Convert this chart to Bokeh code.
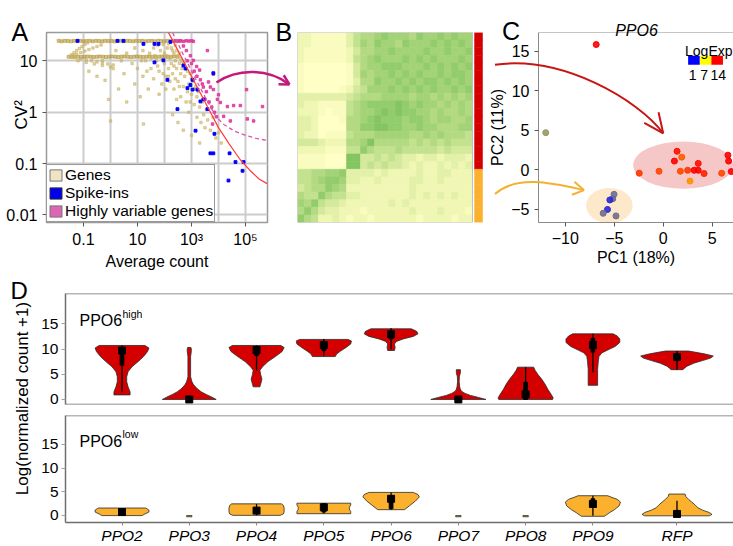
import numpy as np
from math import pi, cos, sin, hypot
from bokeh.plotting import figure
from bokeh.layouts import row, column
from bokeh.models import (Range1d, FactorRange, FixedTicker, Legend, LegendItem, Label, Span,
                          LinearColorMapper, ColumnDataSource)
from bokeh.core.properties import value
from bokeh.embed import file_html
from bokeh.resources import INLINE

FONT = "Liberation Sans"

# ---------------- Panel A data (log10 average count, log10 CV^2) ----------------
band1_log_mean = [-1.92,-1.81,-1.69,-1.58,-1.46,-1.35,-1.23,-1.12,-1.0,-0.89,-0.77,-0.66,-0.54,-0.43,
                  -0.31,-0.2,-0.08,0.03,0.15,0.26,0.38,0.49,0.61,0.72,0.84,0.95,1.07,1.18,1.3,1.41,
                  1.53,1.64,1.76,1.87,1.99,2.1,2.22,2.33,2.45,2.56]
band1_log_cv2 = [1.39,1.38,1.39,1.385,1.38,1.39,1.385,1.39,1.38,1.385,1.39,1.38,1.39,1.385,1.38,1.39,
                 1.385,1.39,1.38,1.385,1.39,1.38,1.39,1.385,1.38,1.39,1.385,1.39,1.38,1.385,1.39,1.38,
                 1.39,1.385,1.38,1.39,1.385,1.39,1.38,1.385]
band2_log_mean = [-1.55,-1.43,-1.32,-1.2,-1.09,-0.97,-0.86,-0.74,-0.63,-0.51,-0.4,-0.28,-0.17,-0.05,
                  0.06,0.18,0.29,0.41,0.52,0.64,0.75,0.87,0.98,1.1,1.21,1.33,1.44,1.56,1.67,1.79,
                  1.9,2.02,2.13,2.25,2.36,2.48]
band2_log_cv2 = [1.08,1.075,1.085,1.08,1.075,1.08,1.085,1.08,1.075,1.08,1.085,1.08,1.075,1.08,1.085,
                 1.08,1.075,1.08,1.085,1.08,1.075,1.08,1.085,1.08,1.075,1.08,1.085,1.08,1.075,1.08,
                 1.085,1.08,1.075,1.08,1.085,1.08]
other_genes = [
 (-1.45,1.12),(-1.35,1.16),(-1.25,1.2),(-1.15,1.24),(-1.05,1.28),(-0.95,1.32),(-0.85,1.35),
 (-1.4,1.1),(-1.25,1.13),(-1.1,1.16),(-0.95,1.19),(-0.8,1.22),(-0.65,1.25),(-0.5,1.28),(-0.35,1.31),
 (-1.3,1.06),(-1.1,1.04),(-0.9,1.02),(-0.7,1.0),(-0.5,0.98),(-0.3,0.96),(-0.1,0.94),(0.1,0.92),
 (-1.2,1.0),(-0.9,0.97),(-0.6,0.94),(-0.3,0.91),(0.0,0.88),
 (-0.8,0.8),(-0.5,0.7),(-0.2,0.62),(0.1,0.85),(0.3,0.45),(0.6,0.2),(0.5,0.75),(0.8,0.95),(0.9,0.55),
 (1.1,0.3),(1.0,0.85),(1.2,0.7),(1.3,1.0),(1.4,0.45),(1.5,0.85),(1.6,0.65),(1.7,1.0),(1.8,0.8),
 (1.85,1.2),(1.9,0.55),(2.0,0.95),(2.0,1.15),(2.05,0.7),(2.1,1.25),(2.15,0.85),(2.2,1.05),(2.2,0.6),
 (2.25,0.95),(2.3,1.2),(2.3,0.75),(2.35,0.45),(2.4,1.0),(2.4,1.3),(2.45,0.85),(2.5,1.1),(2.5,0.6),
 (2.55,0.95),(2.6,0.3),(2.6,0.75),(2.65,1.0),(2.7,0.5),(2.7,0.95),(2.75,0.7),(2.8,0.2),(2.8,0.85),
 (2.85,0.8),(2.9,0.55),(2.9,0.0),(2.95,0.75),(3.0,0.35),(3.0,0.65),(3.05,0.6),(3.1,0.15),(3.1,0.45),
 (3.15,0.5),(3.2,-0.1),(3.2,0.3),(3.25,0.4),(3.3,0.1),(3.35,-0.2),(3.4,0.2),(3.45,-0.05),(3.5,-0.3),
 (3.55,0.05),(3.6,-0.15),(3.7,-0.35),(3.8,-0.1),(3.9,-0.5),(4.0,-0.4),(4.1,-0.6),(-0.07,0.25),(0.0,-0.17),
 (1.22,-0.23),(2.3,-0.05),(2.5,-0.2),(2.7,-0.35),(3.0,-0.45),(3.3,-0.6),(1.6,1.25),(1.75,1.3),(1.95,1.32),
 (2.15,1.33),(2.35,1.15),(2.55,1.15),(2.75,0.98),(1.2,1.2),(0.9,1.25),(0.6,1.15),(1.45,1.15),
 (2.05,0.45),(2.45,0.25),(1.8,0.35),(0.4,1.0),(0.2,1.2),(-0.3,1.0),
 (1.65,1.1),(1.9,1.05),(2.1,1.1),(2.25,1.25),(2.35,0.9),(2.45,1.2),(2.6,1.05),(2.65,0.85),(1.75,0.9),
 (1.95,0.75),(2.15,0.7),(2.4,0.65),(2.55,0.5),(2.85,0.4),(2.95,0.2),(1.5,1.05),(1.35,0.8),(1.15,1.0),
]
spike_ins = [
 (-1.22,1.39),(0.26,1.39),(0.48,1.39),(1.22,1.33),(1.63,1.33),(1.78,1.33),(2.22,1.37),(1.63,0.97),
 (1.96,1.01),(2.11,0.63),(2.48,0.06),(2.85,0.47),(2.96,0.53),(3.04,0.63),(3.22,0.44),(3.33,0.21),
 (3.44,0.25),(3.59,0.06),(3.15,-0.36),(3.81,0.76),(3.85,-0.42),(3.70,-0.80),(3.81,-0.80),(4.41,-0.80),
 (4.63,-0.97),(4.93,-0.97),(4.89,-1.14),(4.37,-1.33),(2.70,0.91),(2.78,0.85),(3.04,0.44),
]
hvg = [
 (2.4,1.39),(2.5,1.385),(2.6,1.39),(2.7,1.38),(2.8,1.39),(2.9,1.385),(3.0,1.39),(3.07,1.38),
 (2.70,1.29),(2.81,1.20),(2.96,1.10),(3.07,1.01),(3.19,0.89),(3.30,0.82),(3.59,1.20),
 (3.33,0.63),(3.44,0.49),(3.63,0.59),(3.70,0.49),(3.81,0.44),(3.96,0.25),(4.07,0.19),(4.33,0.11),
 (4.56,0.13),(4.81,0.13),(5.07,-0.13),(5.30,-0.17),(5.63,0.11),(5.04,0.44),(3.81,0.74),(4.0,0.34),
 (4.19,-0.08),(4.44,-0.17),(3.78,-0.23),(3.93,-0.09),(3.2,0.7),(3.4,0.55),(3.55,0.4),(3.5,0.25),
 (3.65,0.2),(3.75,0.1),(3.85,0.0),(2.85,1.0),(3.0,0.95),(3.1,0.8),
]
fit_log_mean = [2.15,2.6,3.0,3.4,3.7,4.0,4.4,4.8,5.2,5.5,5.8]
fit_log_cv2 = [1.55,1.10,0.70,0.30,0.0,-0.30,-0.62,-0.92,-1.15,-1.30,-1.39]
thr_log_mean = [2.3,2.7,3.1,3.5,3.9,4.2,4.6,5.0,5.4,5.8]
thr_log_cv2 = [1.55,1.12,0.70,0.30,-0.08,-0.24,-0.37,-0.45,-0.51,-0.55]

# ---------------- Panel B data (sample x sample heatmap, 0 = pale yellow ... 9 = green) ----------------
heat_rows = [
 "2211111356678777687787877",
 "2211111357687768777878787",
 "2111111246677877778778778",
 "2111111256787778787877787",
 "1000000146778887778787878",
 "1000000147677878787787887",
 "1000000136687787878878787",
 "1000001245777878787877878",
 "3333333456667777677676767",
 "3221111567888898787767676",
 "2221011567789898877676676",
 "3320001667898887887677667",
 "3320000668899887787766677",
 "3220111566677777667676665",
 "4443222667966666565656555",
 "2222111558655565555545444",
 "1111000994454543323323332",
 "1111000994545443232232323",
 "5566778333323222232233222",
 "5567887332232222332232222",
 "4566876222222222322222222",
 "6558655332222222323232322",
 "7685443222222323222222222",
 "6864332221222222322232221",
 "8652232122122222212222122",
]
sample_group = list("HHHHHHHHHHHHHHHHHHLLLLLLL")

# ---------------- Panel C data (PCA) ----------------
pc1 = [-2.45,-0.43,1.14,1.41,1.75,1.89,2.49,2.73,3.16,3.57,3.57,4.17,5.96,6.6,6.67,6.94,-6.84,-11.99,
       -5.02,-5.15,-5.45,-5.69,-6.13,-4.82]
pc2 = [-0.42,-0.17,1.11,2.35,-0.17,1.61,-0.05,-1.41,-0.05,0.82,-0.05,-0.46,-0.42,1.86,1.11,-0.21,15.84,4.70,
       -3.09,-3.64,-3.80,-5.0,-5.49,-5.82]
log_exp = [12.5,12.0,14.0,13.5,12.0,11.5,12.5,10.0,14.0,13.5,14.0,13.0,12.0,14.0,14.0,14.0,14.0,4.6,
           3.6,3.4,2.0,2.0,3.6,3.6]
legend_levels = [1, 7, 14]
ell_x = [2.04, -5.5]
ell_y = [0.6, -4.5]
ell_w = [10.2, 4.75]
ell_h = [6.0, 4.45]
ell_color = ["#f5c7c7", "#fde9ca"]

# ---------------- Panel D data (violins) ----------------
gene_names = ["PPO2","PPO3","PPO4","PPO5","PPO6","PPO7","PPO8","PPO9","RFP"]
gene_group = ["ppo","ppo","ppo","ppo","ppo","ppo","ppo","ppo","ctl"]

high_y = {
 "PPO2": [0.9,1.5,2.5,3.5,4.5,5.5,6.5,7.5,8.5,9.5,10.2,10.7],
 "PPO3": [0.0,0.5,1.0,1.5,2.0,2.5,3.0,3.5,4.0,4.5,5.5,7.0,8.5,9.5,10.0,10.3],
 "PPO4": [2.5,3.0,4.0,5.0,5.8,6.5,7.5,8.5,9.5,10.3,10.7],
 "PPO5": [8.5,9.0,9.6,10.3,11.0,11.6,11.9],
 "PPO6": [9.7,10.3,11.0,11.5,12.0,12.5,13.0,13.5,14.0],
 "PPO7": [0.0,0.4,0.8,1.2,1.6,2.0,2.5,3.5,4.5,5.3,5.9],
 "PPO8": [0.0,0.3,1.0,2.0,3.0,4.0,5.0,5.8,6.4],
 "PPO9": [2.8,4.0,6.0,7.5,8.5,9.2,9.8,10.5,11.3,12.0,12.6,13.0],
 "RFP":  [5.9,6.2,6.6,7.2,7.7,8.2,8.6,9.0,9.3,9.6],
}
high_w = {
 "PPO2": [0.12,0.12,0.09,0.07,0.07,0.09,0.15,0.24,0.32,0.38,0.40,0.34],
 "PPO3": [0.40,0.33,0.25,0.18,0.13,0.09,0.06,0.04,0.03,0.02,0.02,0.02,0.02,0.03,0.03,0.025],
 "PPO4": [0.05,0.06,0.08,0.06,0.05,0.09,0.17,0.28,0.38,0.41,0.36],
 "PPO5": [0.17,0.19,0.25,0.33,0.40,0.41,0.36],
 "PPO6": [0.05,0.06,0.05,0.08,0.18,0.33,0.40,0.38,0.30],
 "PPO7": [0.41,0.30,0.18,0.10,0.05,0.03,0.02,0.012,0.015,0.03,0.03],
 "PPO8": [0.40,0.41,0.38,0.33,0.29,0.24,0.18,0.14,0.12],
 "PPO9": [0.07,0.07,0.07,0.08,0.09,0.13,0.22,0.33,0.40,0.40,0.36,0.30],
 "RFP":  [0.09,0.11,0.15,0.25,0.38,0.50,0.54,0.42,0.30,0.17],
}
high_box_gene = ["PPO2","PPO3","PPO4","PPO5","PPO6","PPO7","PPO8","PPO9","RFP"]
high_q1 = [6.8,0.0,8.7,9.7,12.0,0.0,0.0,9.4,7.7]
high_med = [9.7,0.0,9.8,10.8,12.9,0.0,1.0,10.8,8.4]
high_q3 = [10.1,0.15,10.5,11.4,13.4,0.15,3.4,12.1,8.9]
high_lo = [1.45,0.0,5.75,8.7,9.9,0.0,0.0,5.4,5.9]
high_hi = [10.7,0.3,10.7,12.0,14.1,0.3,6.4,13.0,9.6]

low_y = {
 "PPO2": [-0.05,0.3,0.7,1.1,1.4,1.55],
 "PPO3": [-0.3,-0.05],
 "PPO4": [0.0,0.3,0.8,1.5,2.1,2.43],
 "PPO5": [0.35,0.8,1.3,1.7,2.2,2.57],
 "PPO6": [1.2,2.0,3.0,3.9,4.4,4.85],
 "PPO7": [-0.3,-0.05],
 "PPO8": [-0.3,-0.05],
 "PPO9": [-0.2,0.5,1.2,2.0,2.8,3.4,3.8,4.15],
 "RFP":  [-0.1,0.2,0.6,1.1,1.6,2.2,2.8,3.4,4.0,4.5],
}
low_w = {
 "PPO2": [0.30,0.34,0.40,0.40,0.37,0.35],
 "PPO3": [0.04,0.04],
 "PPO4": [0.35,0.40,0.41,0.41,0.40,0.37],
 "PPO5": [0.40,0.40,0.38,0.38,0.40,0.40],
 "PPO6": [0.20,0.27,0.36,0.42,0.40,0.33],
 "PPO7": [0.04,0.04],
 "PPO8": [0.04,0.04],
 "PPO9": [0.17,0.24,0.32,0.39,0.41,0.36,0.28,0.22],
 "RFP":  [0.48,0.52,0.48,0.38,0.31,0.27,0.22,0.17,0.13,0.12],
}
low_box_gene = ["PPO2","PPO4","PPO5","PPO6","PPO9","RFP"]
low_q1 = [0.35,0.35,0.7,1.4,1.8,-0.2]
low_med = [0.7,1.0,1.7,3.5,2.4,0.3]
low_q3 = [1.0,1.6,2.4,4.15,3.5,1.0]
low_lo = [-0.05,0.0,0.4,1.2,-0.1,-0.2]
low_hi = [1.55,2.4,2.57,4.85,4.15,3.1]

# ---------------- helpers ----------------
def style_axis(ax, size="16px", tick_color="#555555"):
    ax.major_label_text_font = FONT
    ax.major_label_text_font_size = size
    ax.major_label_text_color = "black"
    ax.axis_label_text_font = FONT
    ax.axis_label_text_font_size = "16px"
    ax.axis_label_text_font_style = "normal"
    ax.axis_label_text_color = "black"
    ax.major_tick_in = 0
    ax.major_tick_out = 4
    ax.minor_tick_line_color = None
    ax.major_tick_line_color = tick_color

def plabel(p, x, y, text, size="24px", **kw):
    # label inside a frame, canvas pixel units
    p.add_layout(Label(x=x, y=y, x_units="canvas", y_units="canvas", text=text,
                       text_font=FONT, text_font_size=size, text_color="black", **kw))

def free_text(p, x, y, text, size, **kw):
    # text glyph drawn on the overlay level (not clipped to the frame)
    p.text(x=[x], y=[y], text=[text], text_font=value(FONT), text_font_size=size,
           text_color="black", level="overlay", **kw)

def head_arms(tip, direction, length, half_angle=0.5):
    dx, dy = direction
    n = hypot(dx, dy)
    bx, by = -dx / n, -dy / n
    arms = []
    for a in (half_angle, -half_angle):
        rx = bx * cos(a) - by * sin(a)
        ry = bx * sin(a) + by * cos(a)
        arms.append((tip[0] + rx * length, tip[1] + ry * length))
    return arms

TOP_H = 272

# ================= Panel A =================
A_LX = (-2.37, 5.815)
A_LY = (-2.147, 1.552)
pA = figure(width=294, height=TOP_H, x_axis_type="log", y_axis_type="log",
            x_range=Range1d(10**A_LX[0], 10**A_LX[1]), y_range=Range1d(10**A_LY[0], 10**A_LY[1]),
            output_backend="svg", toolbar_location=None,
            min_border_left=46, min_border_right=27, min_border_top=32, min_border_bottom=46)

def A_px(X, Y):
    # pixel position (frame: x 46..267, y 32..226) -> data coordinates
    lx = A_LX[0] + (X - 46) / 221 * (A_LX[1] - A_LX[0])
    ly = A_LY[1] - (Y - 32) / 194 * (A_LY[1] - A_LY[0])
    return 10 ** lx, 10 ** ly

pA.outline_line_color = "#9a9a9a"
pA.outline_line_width = 1.5
style_axis(pA.xaxis[0]); style_axis(pA.yaxis[0])
pA.xaxis.axis_line_color = None
pA.yaxis.axis_line_color = None
pA.xaxis.ticker = FixedTicker(ticks=[0.1, 10, 1000, 100000], minor_ticks=[1, 100, 10000])
pA.xaxis.major_label_overrides = {0.1: "0.1", 10: "10", 1000: "10³", 100000: "10⁵"}
pA.yaxis.ticker = FixedTicker(ticks=[0.01, 0.1, 1, 10])
pA.yaxis.major_label_overrides = {0.01: "0.01", 0.1: "0.1", 1: "1", 10: "10"}
pA.xaxis.axis_label = "Average count"
pA.xaxis.axis_label_standoff = 2
pA.xaxis.major_label_standoff = 4
for g in (pA.xgrid[0], pA.ygrid[0]):
    g.grid_line_color = "#cccccc"
    g.grid_line_width = 2
pA.xgrid.minor_grid_line_color = "#cccccc"
pA.xgrid.minor_grid_line_width = 2

pA.scatter(10 ** np.array(band1_log_mean + band2_log_mean), 10 ** np.array(band1_log_cv2 + band2_log_cv2),
           marker="square", size=3, color="#b59a3e", alpha=0.6)
pA.scatter(10 ** np.array([p[0] for p in other_genes]), 10 ** np.array([p[1] for p in other_genes]),
           marker="square", size=2.5, color="#c8b060", alpha=0.55)
pA.scatter(10 ** np.array([p[0] for p in hvg]), 10 ** np.array([p[1] for p in hvg]),
           marker="square", size=2.5, color="#e0339b", alpha=0.85)
pA.scatter(10 ** np.array([p[0] for p in spike_ins]), 10 ** np.array([p[1] for p in spike_ins]),
           marker="square", size=2.8, color="#0000ff")
pA.line(10 ** np.array(fit_log_mean), 10 ** np.array(fit_log_cv2), line_color="#ff3b3b", line_width=1.2)
pA.line(10 ** np.array(thr_log_mean), 10 ** np.array(thr_log_cv2), line_color="#e050b0",
        line_width=1.3, line_dash="4 3")

# legend proxies (a single square far outside the visible range)
far = dict(left=[1e-9], right=[2e-9], bottom=[1e-9], top=[2e-9])
lg1 = pA.quad(**far, fill_color="#efe5c4", line_color="#777777")
lg2 = pA.quad(**far, fill_color="#0000ee", line_color="#333333")
lg3 = pA.quad(**far, fill_color="#dd66b4", line_color="#777777")
legA = Legend(items=[LegendItem(label="Genes", renderers=[lg1]),
                     LegendItem(label="Spike-ins", renderers=[lg2]),
                     LegendItem(label="Highly variable genes", renderers=[lg3])],
              location="bottom_left", margin=0, padding=1, spacing=0,
              glyph_width=15, glyph_height=14, label_height=14, label_standoff=2,
              label_text_font=FONT, label_text_font_size="15.5px", label_text_color="black",
              label_text_line_height=1.0,
              border_line_color="#333333", border_line_width=1, background_fill_alpha=1)
pA.add_layout(legA)

# curved arrow A -> B
MAG = "#c4187c"
a0, a1, a2, a3 = A_px(216, 83), A_px(238, 68), A_px(268, 69), A_px(289, 85)
pA.bezier(x0=[a0[0]], y0=[a0[1]], x1=[a3[0]], y1=[a3[1]], cx0=[a1[0]], cy0=[a1[1]],
          cx1=[a2[0]], cy1=[a2[1]], line_color=MAG, line_width=2.5, level="overlay")
for arm in head_arms((289, 85), (21, 12), 11):
    e = A_px(*arm)
    pA.segment(x0=[a3[0]], y0=[a3[1]], x1=[e[0]], y1=[e[1]], line_color=MAG, line_width=2.5,
               level="overlay")

cv = A_px(21, 116)
free_text(pA, cv[0], cv[1], "CV²", "17px", angle=pi/2, text_align="center", text_baseline="middle")
ta = A_px(11, 31)
free_text(pA, ta[0], ta[1], "A", "25px", text_align="left", text_baseline="alphabetic")
tb = A_px(275, 31)
free_text(pA, tb[0], tb[1], "B", "25px", text_align="left", text_baseline="alphabetic")

# ================= Panel B =================
pB = figure(width=192, height=TOP_H, x_range=Range1d(0, 26.57), y_range=Range1d(0, 25),
            output_backend="svg", toolbar_location=None,
            min_border_left=3, min_border_right=3, min_border_top=32, min_border_bottom=46)
pB.axis.visible = False
pB.grid.visible = False
pB.outline_line_color = None
heat_palette = ["#ffffc6", "#f9fbbf", "#f0f6b4", "#e3f0a8", "#d4e99c",
                "#c3e28f", "#b3da82", "#a3d376", "#93cc6b", "#84c561"]
hm = LinearColorMapper(palette=heat_palette, low=-0.5, high=9.5)
hx, hy, hv = [], [], []
for r, line in enumerate(heat_rows):
    for c, ch in enumerate(line):
        hx.append(c + 0.5); hy.append(len(heat_rows) - r - 0.5); hv.append(int(ch))
pB.rect(x="x", y="y", width=1, height=1, fill_color={"field": "v", "transform": hm},
        line_color={"field": "v", "transform": hm}, line_width=0.6,
        source=ColumnDataSource(dict(x=hx, y=hy, v=hv)))
pB.rect(x=[12.5], y=[12.5], width=25, height=25, fill_color=None, line_color="#c0c0c0", line_width=1)
grp_color = {"H": "#d40000", "L": "#fbb12e"}
gcols = [grp_color[g] for g in sample_group]
pB.rect(x="x", y="y", width=1.14, height=1, fill_color="c", line_color="c", line_width=0.5,
        source=ColumnDataSource(dict(x=[25.86] * len(sample_group),
                                     y=[len(sample_group) - i - 0.5 for i in range(len(sample_group))],
                                     c=gcols)))

# ================= Panel C =================
pC = figure(width=247, height=TOP_H, x_range=Range1d(-12.73, 7.17), y_range=Range1d(-6.65, 17.36),
            output_backend="svg", toolbar_location=None,
            min_border_left=50, min_border_right=0, min_border_top=32, min_border_bottom=46)

def C_ref(X, Y):
    # pixel position -> PCA data coordinates
    return (X - 662) / 9.9, (172.3 - Y) / 8.08

pC.grid.visible = False
pC.outline_line_color = None
style_axis(pC.xaxis[0]); style_axis(pC.yaxis[0])
pC.xaxis.axis_line_color = "#8a8a8a"
pC.yaxis.axis_line_color = "#8a8a8a"
pC.xaxis.ticker = FixedTicker(ticks=[-10, -5, 0, 5])
pC.yaxis.ticker = FixedTicker(ticks=[-5, 0, 5, 10, 15])
pC.xaxis.axis_label = "PC1 (18%)"
pC.yaxis.axis_label = "PC2 (11%)"
pC.xaxis.axis_label_standoff = 2
pC.yaxis.axis_label_standoff = 2
pC.add_layout(Span(location=17.36, dimension="width", line_color="#8a8a8a", line_width=1))

pC.ellipse(x=ell_x, y=ell_y, width=ell_w, height=ell_h, fill_color=ell_color, line_color=None)

pal = []
for i in range(256):
    v = 1 + 13 * i / 255
    if v <= 7:
        t = (v - 1) / 6
        rgb = (255 * t, 255 * t, 255 * (1 - t))
    else:
        t = (v - 7) / 7
        rgb = (255, 255 * (1 - t), 0)
    pal.append("#%02x%02x%02x" % tuple(int(round(c)) for c in rgb))
cmapC = LinearColorMapper(palette=pal, low=1, high=14)
pC.scatter("x", "y", source=ColumnDataSource(dict(x=pc1, y=pc2, e=log_exp)), size=6,
           fill_color={"field": "e", "transform": cmapC}, line_color={"field": "e", "transform": cmapC},
           fill_alpha=0.9)

# LogExp legend (colours through the same mapper)
bar_x = [C_ref(693, 0)[0], C_ref(705, 0)[0], C_ref(716.5, 0)[0]]
lab_x = [C_ref(691.7, 0)[0], C_ref(703.4, 0)[0], C_ref(717.5, 0)[0]]
bar_y = (C_ref(0, 55.7)[1] + C_ref(0, 65)[1]) / 2
pC.rect(x="x", y="y", width=1.18, height=C_ref(0, 55.7)[1] - C_ref(0, 65)[1], line_color=None,
        fill_color={"field": "v", "transform": cmapC},
        source=ColumnDataSource(dict(x=bar_x, y=[bar_y] * 3, v=legend_levels)))
pC.text(x=[C_ref(708, 0)[0]], y=[C_ref(0, 50.5)[1]], text=["LogExp"], text_font=value(FONT),
        text_font_size="14px", text_align="center", text_baseline="alphabetic", text_color="black")
pC.text(x=lab_x, y=[C_ref(0, 75.5)[1]] * 3, text=[str(v) for v in legend_levels], text_font=value(FONT),
        text_font_size="14px", text_align="center", text_baseline="alphabetic", text_color="black")

# arrows in C
RED = "#c81414"
ORA = "#f5b030"
r0, r1, r2, r3 = C_ref(492, 65), C_ref(560, 55), C_ref(637, 101), C_ref(662, 135)
pC.bezier(x0=[r0[0]], y0=[r0[1]], x1=[r3[0]], y1=[r3[1]], cx0=[r1[0]], cy0=[r1[1]],
          cx1=[r2[0]], cy1=[r2[1]], line_color=RED, line_width=2, level="overlay")
for arm in head_arms((662, 135), (10, 13.5), 22, 0.42):
    e = C_ref(*arm)
    pC.segment(x0=[r3[0]], y0=[r3[1]], x1=[e[0]], y1=[e[1]], line_color=RED, line_width=2, level="overlay")
o0, o1, o2, o3 = C_ref(492, 197), C_ref(515, 176), C_ref(555, 187), C_ref(582, 193)
pC.bezier(x0=[o0[0]], y0=[o0[1]], x1=[o3[0]], y1=[o3[1]], cx0=[o1[0]], cy0=[o1[1]],
          cx1=[o2[0]], cy1=[o2[1]], line_color=ORA, line_width=2, level="overlay")
for arm in head_arms((582, 193), (10.9, 2), 13, 0.55):
    e = C_ref(*arm)
    pC.segment(x0=[o3[0]], y0=[o3[1]], x1=[e[0]], y1=[e[1]], line_color=ORA, line_width=2, level="overlay")

tt = C_ref(635, 30)
free_text(pC, tt[0], tt[1], "PPO6", "16px", text_align="center", text_baseline="alphabetic",
          text_font_style="italic")
tc = C_ref(499, 31)
free_text(pC, tc[0], tc[1], "C", "25px", text_align="left", text_baseline="alphabetic")

# ================= Panel D =================
factors = [(g, n) for g, n in zip(gene_group, gene_names)]
xr = FactorRange(factors=factors, group_padding=0.25, range_padding=0.34, range_padding_units="absolute")
grp_of = dict(zip(gene_names, gene_group))

def make_violin_panel(height, yr, top, bottom, prof_y, prof_w, fill, bgenes, q1, med, q3, lo, hi, show_x):
    p = figure(width=699, height=height, x_range=xr, y_range=yr, output_backend="svg",
               toolbar_location=None, min_border_left=31, min_border_right=0,
               min_border_top=top, min_border_bottom=bottom)
    p.grid.visible = False
    p.outline_line_color = None
    style_axis(p.yaxis[0], size="15.5px", tick_color="#a0a0a0")
    p.yaxis.ticker = FixedTicker(ticks=[0, 5, 10, 15])
    p.yaxis.axis_line_color = "#6e6e6e"
    p.yaxis.axis_line_width = 1.5
    p.yaxis.major_label_standoff = 3
    p.add_layout(Span(location=yr.end, dimension="width", line_color="#6e6e6e", line_width=1.5))
    if show_x:
        ax = p.xaxis[0]
        ax.major_label_text_font = FONT
        ax.major_label_text_font_size = "15.5px"
        ax.major_label_text_font_style = "italic"
        ax.major_label_text_color = "black"
        ax.axis_line_color = "#6e6e6e"
        ax.axis_line_width = 1.5
        ax.major_tick_in = 0
        ax.major_tick_out = 3
        ax.major_tick_line_color = "#8a8a8a"
        ax.major_label_standoff = 1
        ax.group_text_font_size = "1px"
        ax.group_text_alpha = 0
        ax.separator_line_color = None
    else:
        p.xaxis.visible = False
        p.add_layout(Span(location=yr.start, dimension="width", line_color="#6e6e6e", line_width=1.5))
    for n in gene_names:
        g = grp_of[n]
        ys = prof_y[n]; ws = prof_w[n]
        xs = [(g, n, -w) for w in ws] + [(g, n, w) for w in ws[::-1]]
        p.patch(x=xs, y=ys + ys[::-1], fill_color=fill, line_color="#2a2a2a", line_width=0.8)
    cats = [(grp_of[n], n) for n in bgenes]
    src = ColumnDataSource(dict(x=cats, q1=q1, med=med, q3=q3, lo=lo, hi=hi))
    p.segment(x0="x", y0="lo", x1="x", y1="hi", source=src, line_color="black", line_width=1.3)
    p.vbar(x="x", bottom="q1", top="q3", width=0.055, source=src, fill_color="black", line_color="black")
    p.scatter(x="x", y="med", marker="square", size=7, source=src, color="black")
    return p

pDh = make_violin_panel(137, Range1d(-1.0, 21.0), 21, 5, high_y, high_w, "#d40000",
                        high_box_gene, high_q1, high_med, high_q3, high_lo, high_hi, False)
pDl = make_violin_panel(137, Range1d(-1.51, 21.1), 6, 22, low_y, low_w, "#fbb12e",
                        low_box_gene, low_q1, low_med, low_q3, low_lo, low_hi, True)
plabel(pDh, 45, 48, "PPO6", size="16px", text_baseline="alphabetic")
plabel(pDh, 88, 41, "high", size="10.5px", text_baseline="alphabetic")
plabel(pDl, 45, 32, "PPO6", size="16px", text_baseline="alphabetic")
plabel(pDl, 88, 24, "low", size="10.5px", text_baseline="alphabetic")

pDlab = figure(width=34, height=274, output_backend="svg", toolbar_location=None,
               min_border_left=0, min_border_right=0, min_border_top=0, min_border_bottom=0)
pDlab.axis.visible = False
pDlab.grid.visible = False
pDlab.outline_line_color = None
plabel(pDlab, 10, 18, "D", size="24px", text_baseline="alphabetic")
plabel(pDlab, 22, 126, "Log(normalized count +1)", size="17px", angle=pi/2,
       text_align="center", text_baseline="middle")

layout = column(row(pA, pB, pC), row(pDlab, column(pDh, pDl)))
open("out.html", "w").write(file_html(layout, INLINE))
